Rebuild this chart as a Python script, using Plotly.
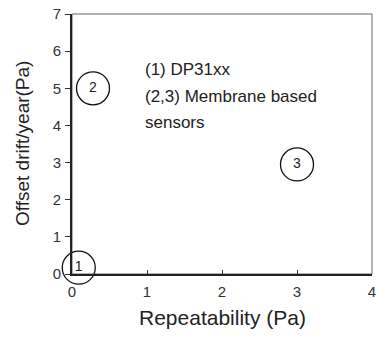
import plotly.graph_objects as go

repeatability = [0.09, 0.28, 3.0]
offset_drift = [0.17, 5.0, 2.95]
labels = ["1", "2", "3"]
x_ticks = [0, 1, 2, 3, 4]
y_ticks = [0, 1, 2, 3, 4, 5, 6, 7]
legend_lines = ["(1) DP31xx", "(2,3) Membrane based", "sensors"]
legend_y = [5.5, 4.77, 4.08]

FONT = "Liberation Sans, Arial, sans-serif"
fig = go.Figure()
fig.add_trace(go.Scatter(
    x=repeatability, y=offset_drift, mode="markers+text", text=labels,
    textposition="middle center", textfont=dict(family=FONT, size=14, color="#222"),
    marker=dict(symbol="circle-open", size=33, color="#111", line=dict(width=1.3, color="#111")),
    cliponaxis=False, showlegend=False, hoverinfo="skip",
))
for line, yy in zip(legend_lines, legend_y):
    fig.add_annotation(x=0.95, y=yy, xref="x", yref="y", text=line,
                       showarrow=False, xanchor="left", yanchor="middle", align="left",
                       font=dict(family=FONT, size=17, color="#222"))
fig.add_annotation(x=0.5, y=0, xref="paper", yref="paper", text="Repeatability (Pa)",
                   showarrow=False, xanchor="center", yanchor="middle", yshift=-43,
                   font=dict(family=FONT, size=21, color="#222"))
fig.add_annotation(x=0, y=0.5, xref="paper", yref="paper", text="Offset drift/year(Pa)",
                   showarrow=False, xanchor="center", yanchor="middle", xshift=-50, textangle=-90,
                   font=dict(family=FONT, size=19, color="#222"))
fig.update_layout(
    width=376, height=339, margin=dict(l=72, r=4, t=14, b=65),
    paper_bgcolor="white", plot_bgcolor="white",
    font=dict(family=FONT, color="#222"),
    shapes=[dict(type="rect", xref="paper", yref="paper", x0=0, y0=0, x1=1, y1=1,
                 line=dict(color="#666", width=1), layer="below")],
)
fig.update_xaxes(range=[0, 4], tickvals=x_ticks, ticks="inside", ticklen=4, tickcolor="#333",
                 showline=True, linecolor="#222", linewidth=2, showgrid=False, zeroline=False,
                 tickfont=dict(size=15, color="#333"), ticklabelstandoff=3, automargin=False,
                 ticklabeloverflow="allow")
fig.update_yaxes(range=[0, 7], tickvals=y_ticks, ticks="outside", ticklen=5, tickcolor="#333",
                 showline=True, linecolor="#222", linewidth=2, showgrid=False, zeroline=False,
                 tickfont=dict(size=15, color="#333"), ticklabelstandoff=1, automargin=False,
                 ticklabeloverflow="allow")
fig.write_html("out.html", config={"displayModeBar": False},
               post_script="document.body.style.margin='0';")
